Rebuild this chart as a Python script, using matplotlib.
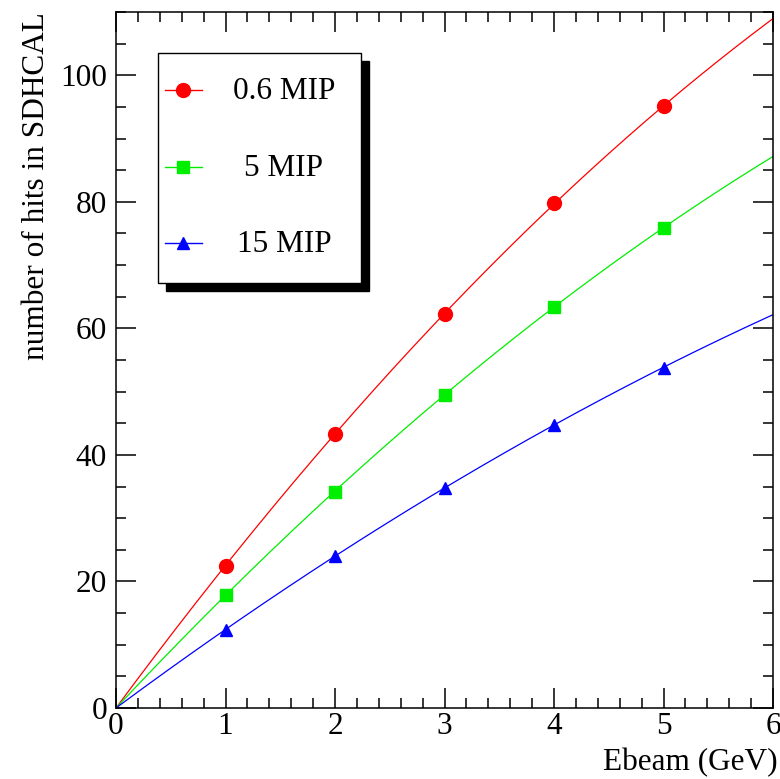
import numpy as np
import matplotlib
matplotlib.use("Agg")
import matplotlib.pyplot as plt
from matplotlib.patches import Rectangle
from matplotlib.ticker import MultipleLocator

# ---- data ----
ebeam = [1, 2, 3, 4, 5]
hits_06 = [22.5, 43.3, 62.3, 79.8, 95.1]
hits_5 = [17.9, 34.2, 49.5, 63.4, 75.9]
hits_15 = [12.3, 24.0, 34.8, 44.8, 53.8]
labels = ["0.6 MIP", "5 MIP", "15 MIP"]
colors = ["#ff0000", "#00ee00", "#0000ff"]
markers = ["o", "s", "^"]
msizes = [10, 8.5, 9]

plt.rcParams['font.family'] = ['Liberation Serif', 'DejaVu Serif']
FS = 22.5

fig = plt.figure(figsize=(7.8, 7.79), dpi=100)
ax = fig.add_axes([116/780, 1-708/779, (773-116)/780, (708-12)/779])

xfit = np.linspace(0, 6, 300)
x = np.array(ebeam, dtype=float)
for ys, c, m, ms in zip([hits_06, hits_5, hits_15], colors, markers, msizes):
    y = np.array(ys)
    A = np.vstack([x, x**2]).T
    coef, *_ = np.linalg.lstsq(A, y, rcond=None)
    yfit = coef[0]*xfit + coef[1]*xfit**2
    ax.plot(xfit, yfit, color=c, lw=0.9, zorder=2)
    ax.plot(x, y, ls='none', marker=m, color=c, ms=ms, zorder=3)

ax.set_xlim(0, 6)
ax.set_ylim(0, 110)
ax.xaxis.set_major_locator(MultipleLocator(1))
ax.xaxis.set_minor_locator(MultipleLocator(0.2))
ax.yaxis.set_major_locator(MultipleLocator(20))
ax.yaxis.set_minor_locator(MultipleLocator(5))
ax.tick_params(which='both', direction='in', top=True, right=True, width=1.1, labelsize=FS)
ax.tick_params(which='major', length=14.5)
ax.tick_params(which='minor', length=7.5)
ax.tick_params(axis='x', pad=3)
ax.tick_params(axis='y', pad=6.5)
for s in ax.spines.values():
    s.set_linewidth(1.1)

ax.set_xlabel("Ebeam (GeV)", fontsize=FS, loc='right')
ax.xaxis.set_label_coords((778-116)/657, (708-748)/696)
ax.set_ylabel("number of hits in SDHCAL", fontsize=FS, loc='top')
ax.yaxis.set_label_coords((51-116)/657, 1.0)

# ---- legend (ROOT style box with shadow) ----
W, H = 657, 696
def ax_x(px):
    return (px-116)/W
def ax_y(py):
    return (708-py)/H
bx0, bx1, by0, by1 = ax_x(158), ax_x(361), ax_y(283), ax_y(53)
shadow = Rectangle((bx0+8/W, by0-8/H), bx1-bx0, by1-by0, transform=ax.transAxes,
                   facecolor='black', edgecolor='black', zorder=5, clip_on=False)
box = Rectangle((bx0, by0), bx1-bx0, by1-by0, transform=ax.transAxes,
                facecolor='white', edgecolor='black', lw=1.0, zorder=6, clip_on=False)
ax.add_patch(shadow)
ax.add_patch(box)
rows = [90, 167, 243]
for lab, c, m, ms, ry in zip(labels, colors, markers, msizes, rows):
    yy = ax_y(ry)
    ax.plot([ax_x(165), ax_x(202)], [yy, yy], color=c, lw=1.0, transform=ax.transAxes, zorder=7, clip_on=False)
    ax.plot([ax_x(183)], [yy], marker=m, color=c, ms=ms, transform=ax.transAxes, zorder=8, clip_on=False)
    ax.text(ax_x(284), yy - 2/H, lab, fontsize=FS, ha='center', va='center', transform=ax.transAxes, zorder=8)

fig.savefig("out.png", dpi=100)
